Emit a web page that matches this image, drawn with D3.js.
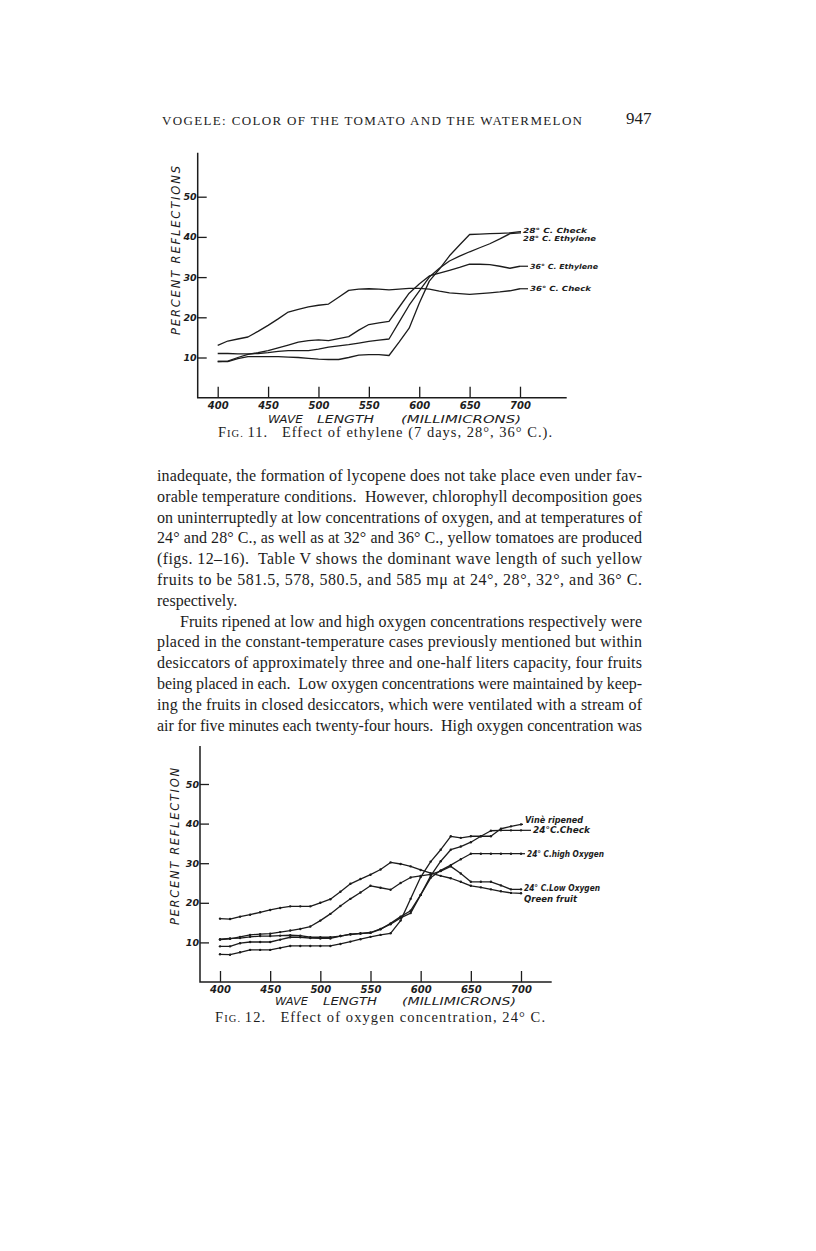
<!DOCTYPE html>
<html>
<head>
<meta charset="utf-8">
<script src="https://cdn.jsdelivr.net/npm/d3@7"></script>
<style>
  body { margin: 0; background: #fff; }
</style>
</head>
<body>
<script>
var width = 816,
    height = 1251;

// wave length categories (millimicrons), one reading every 10
var wavelengths = [400, 410, 420, 430, 440, 450, 460, 470, 480, 490, 500, 510, 520, 530, 540, 550,
                   560, 570, 580, 590, 600, 610, 620, 630, 640, 650, 660, 670, 680, 690, 700];
var waveTicks = [400, 450, 500, 550, 600, 650, 700];
var reflectionTicks = [10, 20, 30, 40, 50];

// Fig. 11 -- effect of ethylene
var fig11Names = ['28° C. Check', '28° C. Ethylene', '36° C. Ethylene', '36° C. Check'];
var check28 = [9, 9, 9.7, 10.2, 10.2, 10.2, 10.2, 10.1, 10, 9.8, 9.6, 9.5, 9.5, 10, 10.6, 10.7,
               10.7, 10.5, 13.8, 17.3, 23.5, 29, 32, 35.3, 38, 40.6, 40.7, 40.8, 40.9, 41, 41.3];
var ethylene28 = [11, 11, 10.9, 10.9, 11, 11.2, 11.5, 11.7, 11.7, 11.7, 12.1, 12.6, 12.9, 13.2, 13.6, 14,
                  14.3, 14.6, 18.8, 23, 26.5, 30, 32.2, 34, 35.2, 36.3, 37.3, 38.3, 39.5, 40.8, 41];
var ethylene36 = [9, 9.1, 10, 10.8, 11.2, 11.7, 12.4, 13.1, 13.8, 14.2, 14.4, 14.2, 14.7, 15.2, 16.8, 18.2,
                  18.6, 19, 22.5, 26, 28.3, 30.3, 31, 31.7, 32.4, 33.2, 33.2, 33.1, 32.7, 32.2, 32.7];
var check36 = [13, 14.1, 14.6, 15.1, 16.5, 18, 19.6, 21.3, 22, 22.6, 23, 23.3, 25, 26.7, 27, 27.1,
               27, 26.8, 27, 27.2, 27.2, 27, 26.5, 26.1, 25.9, 25.7, 25.9, 26.1, 26.3, 26.6, 27.1];

// Fig. 12 -- effect of oxygen concentration, 24 C
var fig12Names = ['Vinè ripened', '24°C.Check', '24° C.high Oxygen', '24° C.Low Oxygen', 'Qreen fruit'];
var vineRipened = [7, 6.9, 7.5, 8.1, 8.1, 8.1, 8.6, 9.1, 9.1, 9.1, 9.1, 9.1, 9.6, 10.2, 10.8, 11.4,
                   11.9, 12.3, 15.5, 21, 26.5, 30.4, 33.4, 36.8, 36.4, 36.8, 36.8, 36.8, 38.7, 39.3, 39.8];
var check24 = [9, 9, 9.8, 10.1, 10.1, 10.1, 10.7, 11.3, 11.3, 11.1, 11, 11, 11.6, 12.1, 12.3, 12.5,
               13.4, 14.6, 16.2, 17.4, 22, 26.8, 30.5, 33.4, 34.2, 35.3, 36.8, 38.2, 38.3, 38.3, 38.3];
var highOxygen24 = [10.8, 11, 11.1, 11.4, 11.6, 11.6, 11.7, 11.8, 11.7, 11.3, 11.3, 11.3, 11.6, 12, 12.2, 12.4,
                    13.3, 14.8, 16.5, 18, 22, 26.3, 28.2, 29.5, 31, 32.4, 32.4, 32.4, 32.4, 32.4, 32.4];
var lowOxygen24 = [10.7, 10.9, 11.4, 11.9, 12.1, 12.2, 12.6, 13, 13.4, 14, 15.5, 17.2, 19.2, 21, 22.6, 24.3,
                   23.8, 23.3, 25, 26.4, 26.8, 27.2, 28, 29.2, 27.4, 25.3, 25.3, 25.3, 24.4, 23.4, 23.4];
var greenFruit = [16, 15.9, 16.5, 17, 17.6, 18.2, 18.7, 19.1, 19.1, 19.1, 20, 20.9, 22.8, 24.8, 26, 27.1,
                  28.4, 30.2, 29.8, 29.2, 28.3, 27.5, 26.8, 26.2, 25.3, 24.3, 23.9, 23.4, 22.9, 22.5, 22.4];

var paragraphLines = [
  'inadequate, the formation of lycopene does not take place even under fav-',
  'orable temperature conditions.  However, chlorophyll decomposition goes',
  'on uninterruptedly at low concentrations of oxygen, and at temperatures of',
  '24° and 28° C., as well as at 32° and 36° C., yellow tomatoes are produced',
  '(figs. 12–16).  Table V shows the dominant wave length of such yellow',
  'fruits to be 581.5, 578, 580.5, and 585 mμ at 24°, 28°, 32°, and 36° C.',
  'respectively.',
  'Fruits ripened at low and high oxygen concentrations respectively were',
  'placed in the constant-temperature cases previously mentioned but within',
  'desiccators of approximately three and one-half liters capacity, four fruits',
  'being placed in each.  Low oxygen concentrations were maintained by keep-',
  'ing the fruits in closed desiccators, which were ventilated with a stream of',
  'air for five minutes each twenty-four hours.  High oxygen concentration was'
];

var ink = '#1c1c1c',
    serif = '"Liberation Serif", "DejaVu Serif", serif',
    letter = '"DejaVu Sans", "Liberation Sans", sans-serif';

var svg = d3.select('body')
    .append('svg')
    .attr('width', width)
    .attr('height', height)
    .style('background', '#fff');

// running head
svg.append('text')
    .attr('x', 162).attr('y', 125)
    .attr('textLength', 420).attr('lengthAdjust', 'spacing')
    .style('font-family', serif).style('font-size', '13px')
    .attr('fill', ink)
    .text('VOGELE: COLOR OF THE TOMATO AND THE WATERMELON');

svg.append('text')
    .attr('x', 626).attr('y', 124)
    .style('font-family', serif).style('font-size', '17px')
    .attr('fill', ink)
    .text('947');

// body text
paragraphLines.forEach(function(line, i) {
  var indent = i === 7 ? 180 : 157;
  var t = svg.append('text')
      .attr('x', indent)
      .attr('y', 481 + i * 20.8)
      .style('font-family', serif).style('font-size', '16px')
      .style('white-space', 'pre')
      .attr('fill', ink)
      .text(line);
  if (i !== 6) t.attr('textLength', 642 - indent).attr('lengthAdjust', 'spacing');
});

function drawFigure(cfg) {
  var g = svg.append('g');

  var x = d3.scaleLinear().domain([400, 700]).range([cfg.x400, cfg.x700]);
  var y = d3.scaleLinear().domain([0, 10]).range([cfg.base, cfg.base - cfg.per10]);

  // axis frame
  g.append('path')
      .attr('d', 'M' + cfg.left + ',' + cfg.top + 'V' + cfg.base + 'H' + cfg.right)
      .attr('fill', 'none')
      .attr('stroke', ink)
      .attr('stroke-width', 1.5);

  var xAxis = g.append('g')
      .attr('transform', 'translate(0,' + cfg.base + ')')
      .call(d3.axisBottom(x).tickValues(waveTicks).tickSize(-11).tickFormat(d3.format('d')));
  xAxis.select('.domain').remove();
  xAxis.selectAll('line').attr('stroke', ink).attr('stroke-width', 1.3);
  xAxis.selectAll('text')
      .attr('y', cfg.tickLabelDy).attr('dy', 0)
      .style('font-family', letter).style('font-size', '10px')
      .style('font-style', 'italic').style('font-weight', 'bold')
      .attr('fill', ink);

  var yAxis = g.append('g')
      .attr('transform', 'translate(' + cfg.left + ',0)')
      .call(d3.axisLeft(y).tickValues(reflectionTicks).tickSize(-9).tickPadding(1));
  yAxis.select('.domain').remove();
  yAxis.selectAll('line').attr('stroke', ink).attr('stroke-width', 1.3);
  yAxis.selectAll('text')
      .style('font-family', letter).style('font-size', '9.5px')
      .style('font-style', 'italic').style('font-weight', 'bold')
      .attr('fill', ink);

  // axis titles
  g.append('text')
      .attr('transform', 'translate(' + cfg.yTitleX + ',' + cfg.yTitleY + ') rotate(-90)')
      .attr('text-anchor', 'middle')
      .attr('textLength', cfg.yTitleLen).attr('lengthAdjust', 'spacing')
      .style('font-family', letter).style('font-size', '11.5px').style('font-style', 'italic')
      .attr('fill', ink)
      .text(cfg.yTitle);

  cfg.xTitle.forEach(function(w) {
    g.append('text')
        .attr('x', w.x).attr('y', cfg.xTitleY)
        .attr('textLength', w.len).attr('lengthAdjust', 'spacingAndGlyphs')
        .style('font-family', letter).style('font-size', '10px').style('font-style', 'italic')
        .attr('fill', ink)
        .text(w.text);
  });

  // caption
  var cap = g.append('text')
      .attr('x', cfg.capX).attr('y', cfg.capY)
      .attr('textLength', cfg.capLen).attr('lengthAdjust', 'spacing')
      .style('font-family', serif).style('font-size', '14.5px')
      .style('white-space', 'pre')
      .attr('fill', ink);
  cap.append('tspan').text('F');
  cap.append('tspan').style('font-size', '10.5px').text('IG. ');
  cap.append('tspan').text(cfg.caption);

  var line = d3.line()
      .x(function(d, i) { return x(wavelengths[i]); })
      .y(function(d) { return y(d); });

  cfg.series.forEach(function(s) {
    g.append('path')
        .datum(s.values)
        .attr('d', line)
        .attr('fill', 'none')
        .attr('stroke', ink)
        .attr('stroke-width', 1.3)
        .attr('stroke-linejoin', 'round');

    var last = s.values[s.values.length - 1];
    // lead from the last reading to the label
    g.append('line')
        .attr('x1', x(700)).attr('y1', y(last))
        .attr('x2', s.lx - 2).attr('y2', y(last))
        .attr('stroke', ink).attr('stroke-width', 1.2);

    if (cfg.dots) {
      g.selectAll(null)
          .data(s.values)
          .enter().append('circle')
          .attr('cx', function(d, i) { return x(wavelengths[i]); })
          .attr('cy', function(d) { return y(d); })
          .attr('r', 1.2)
          .attr('fill', ink);
    }

    g.append('text')
        .attr('x', s.lx).attr('y', y(last) + s.dy)
        .attr('textLength', s.len).attr('lengthAdjust', 'spacingAndGlyphs')
        .style('font-family', letter).style('font-size', cfg.labelSize)
        .style('font-style', 'italic').style('font-weight', 'bold')
        .attr('fill', ink)
        .text(s.name);
  });
}

drawFigure({
  x400: 217.7, x700: 520, base: 397.7, per10: 40.2,
  left: 197.7, right: 566.7, top: 152.7,
  tickLabelDy: 11,
  yTitle: 'PERCENT  REFLECTIONS', yTitleX: 180, yTitleY: 250.5, yTitleLen: 169,
  xTitleY: 423,
  xTitle: [{ x: 268, len: 35, text: 'WAVE' }, { x: 317, len: 57, text: 'LENGTH' },
           { x: 401, len: 120, text: '(MILLIMICRONS)' }],
  capX: 218, capY: 437, capLen: 334,
  caption: '11.   Effect of ethylene (7 days, 28°, 36° C.).',
  dots: false,
  labelSize: '7px',
  series: [
    { name: fig11Names[0], values: check28, lx: 523, dy: 1.8, len: 64 },
    { name: fig11Names[1], values: ethylene28, lx: 523, dy: 7.8, len: 73 },
    { name: fig11Names[2], values: ethylene36, lx: 530, dy: 2.5, len: 68 },
    { name: fig11Names[3], values: check36, lx: 530, dy: 2.5, len: 61 }
  ]
});

drawFigure({
  x400: 220, x700: 521, base: 982, per10: 39.6,
  left: 200, right: 551.7, top: 746,
  tickLabelDy: 11,
  yTitle: 'PERCENT  REFLECTION', yTitleX: 179, yTitleY: 846.5, yTitleLen: 157,
  xTitleY: 1005,
  xTitle: [{ x: 275, len: 33, text: 'WAVE' }, { x: 323, len: 54, text: 'LENGTH' },
           { x: 402, len: 114, text: '(MILLIMICRONS)' }],
  capX: 215, capY: 1022, capLen: 330,
  caption: '12.   Effect of oxygen concentration, 24° C.',
  dots: true,
  labelSize: '8px',
  series: [
    { name: fig12Names[0], values: vineRipened, lx: 525, dy: -1, len: 58 },
    { name: fig12Names[1], values: check24, lx: 533, dy: 3, len: 57 },
    { name: fig12Names[2], values: highOxygen24, lx: 527, dy: 3, len: 77 },
    { name: fig12Names[3], values: lowOxygen24, lx: 524, dy: 2, len: 76 },
    { name: fig12Names[4], values: greenFruit, lx: 524, dy: 8.5, len: 53 }
  ]
});
</script>
</body>
</html>
